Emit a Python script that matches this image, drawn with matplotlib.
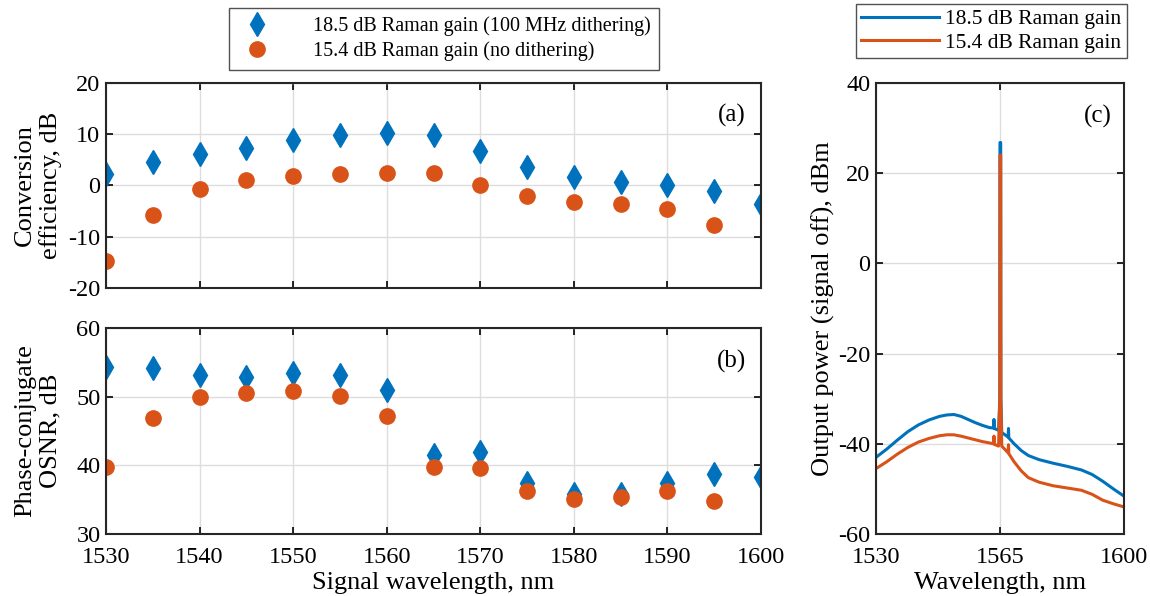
import numpy as np
import matplotlib.pyplot as plt

plt.rcParams['font.family'] = ['Liberation Serif', 'DejaVu Serif']
plt.rcParams['font.size'] = 17.5
plt.rcParams['axes.unicode_minus'] = False

blue = '#0072BD'
orange = '#D95319'

# (a) and (b): signal wavelength sweep
wl_blue = [1530, 1535, 1540, 1545, 1550, 1555, 1560, 1565, 1570, 1575, 1580, 1585, 1590, 1595, 1600]
wl_orange = [1530, 1535, 1540, 1545, 1550, 1555, 1560, 1565, 1570, 1575, 1580, 1585, 1590, 1595]

ce_blue = [2.2, 4.6, 6.2, 7.4, 8.8, 9.9, 10.2, 9.9, 6.8, 3.7, 1.6, 0.6, 0.1, -1.0, -3.6]
ce_orange = [-14.7, -5.8, -0.7, 1.0, 1.9, 2.3, 2.5, 2.4, 0.1, -2.0, -3.3, -3.7, -4.5, -7.7]

osnr_blue = [54.3, 54.2, 53.2, 52.9, 53.4, 53.2, 51.0, 41.5, 41.9, 37.5, 35.8, 35.9, 37.5, 38.7, 38.3]
osnr_orange = [39.7, 46.9, 50.0, 50.6, 50.9, 50.1, 47.2, 39.7, 39.6, 36.3, 35.1, 35.4, 36.2, 34.8]

# (c): output spectrum with signal off
spec_wl_blue = [1530, 1533, 1536, 1539, 1542, 1545, 1548, 1550, 1552, 1554, 1556, 1558, 1560, 1562,
                1563.2, 1563.3, 1563.4, 1564.6, 1564.95, 1565.0, 1565.2, 1565.25, 1565.5,
                1567.3, 1567.4, 1567.5, 1569, 1571, 1573, 1576, 1580, 1584, 1588, 1591, 1594, 1597, 1600]
spec_blue = [-43.0, -41.2, -39.2, -37.3, -35.8, -34.7, -33.9, -33.6, -33.5, -33.9, -34.6, -35.3, -35.9, -36.4,
             -36.5, -34.6, -36.6, -37.0, -30.0, 26.8, 26.8, -30.0, -37.5,
             -38.5, -36.6, -38.7, -40.0, -41.5, -42.6, -43.5, -44.3, -45.0, -45.8, -46.8, -48.3, -50.0, -51.6]

spec_wl_orange = [1530, 1533, 1536, 1539, 1542, 1545, 1548, 1550, 1552, 1554, 1556, 1558, 1560, 1562,
                  1563.2, 1563.3, 1563.4, 1564.6, 1564.95, 1565.0, 1565.2, 1565.25, 1565.5,
                  1567.3, 1567.4, 1567.5, 1569, 1571, 1573, 1576, 1580, 1584, 1588, 1591, 1594, 1597, 1600]
spec_orange = [-45.5, -44.0, -42.3, -40.8, -39.6, -38.8, -38.2, -38.0, -38.0, -38.3, -38.7, -39.1, -39.5, -39.8,
               -40.0, -38.3, -40.1, -40.5, -30.0, 24.0, 24.0, -30.0, -40.5,
               -42.0, -40.2, -42.2, -44.0, -46.0, -47.5, -48.5, -49.3, -49.8, -50.3, -51.2, -52.5, -53.3, -54.0]

fig = plt.figure(figsize=(11.5, 5.96), dpi=100)
ax_a = fig.add_axes([0.0922, 0.5168, 0.5696, 0.344])
ax_b = fig.add_axes([0.0922, 0.104, 0.5696, 0.3456])
ax_c = fig.add_axes([0.7617, 0.104, 0.2157, 0.7567])


def style(ax):
    ax.grid(True, color='#dddddd', linewidth=1)
    ax.set_axisbelow(True)
    ax.tick_params(direction='in', top=True, right=True, length=5, width=1.2)
    ax.tick_params(axis='y', pad=4)
    ax.tick_params(axis='x', pad=9)
    for s in ax.spines.values():
        s.set_linewidth(1.5)
        s.set_color('#262626')


ax_a.plot(wl_blue, ce_blue, 'd', color=blue, markersize=12, label='18.5 dB Raman gain (100 MHz dithering)')
ax_a.plot(wl_orange, ce_orange, 'o', color=orange, markersize=11, label='15.4 dB Raman gain (no dithering)')
ax_a.set_xlim(1530, 1600)
ax_a.set_ylim(-20, 20)
ax_a.set_xticks(np.arange(1530, 1601, 10))
ax_a.set_xticklabels([])
ax_a.set_yticks([-20, -10, 0, 10, 20])
ax_a.set_ylabel('Conversion\nefficiency, dB', fontsize=19, va='center')
ax_a.yaxis.set_label_coords(-0.104, 0.5)
ax_a.text(0.955, 0.84, '(a)', transform=ax_a.transAxes, ha='center', va='center', fontsize=18)
style(ax_a)

ax_b.plot(wl_blue, osnr_blue, 'd', color=blue, markersize=12)
ax_b.plot(wl_orange, osnr_orange, 'o', color=orange, markersize=11)
ax_b.set_xlim(1530, 1600)
ax_b.set_ylim(30, 60)
ax_b.set_xticks(np.arange(1530, 1601, 10))
ax_b.set_yticks([30, 40, 50, 60])
ax_b.set_xlabel('Signal wavelength, nm', fontsize=19, labelpad=3)
ax_b.set_ylabel('Phase-conjugate\nOSNR, dB', fontsize=19, va='center')
ax_b.yaxis.set_label_coords(-0.104, 0.5)
ax_b.text(0.955, 0.84, '(b)', transform=ax_b.transAxes, ha='center', va='center', fontsize=18)
style(ax_b)

fig.legend(handles=ax_a.get_lines(), loc='center', bbox_to_anchor=(0.386, 0.935),
           fontsize=14.5, frameon=True, fancybox=False, edgecolor='#262626',
           borderpad=0.4, handletextpad=1.8, labelspacing=0.3)

ax_c.plot(spec_wl_blue, spec_blue, color=blue, linewidth=2.2, label='18.5 dB Raman gain')
ax_c.plot(spec_wl_orange, spec_orange, color=orange, linewidth=2.2, label='15.4 dB Raman gain')
ax_c.set_xlim(1530, 1600)
ax_c.set_ylim(-60, 40)
ax_c.set_xticks([1530, 1565, 1600])
ax_c.set_yticks([-60, -40, -20, 0, 20, 40])
ax_c.set_xlabel('Wavelength, nm', fontsize=19, labelpad=3)
ax_c.set_ylabel('Output power (signal off), dBm', fontsize=19, labelpad=2)
ax_c.text(0.895, 0.925, '(c)', transform=ax_c.transAxes, ha='center', va='center', fontsize=18)
style(ax_c)

fig.legend(handles=ax_c.get_lines(), loc='center', bbox_to_anchor=(0.862, 0.948),
           fontsize=15.5, frameon=True, fancybox=False, edgecolor='#262626',
           borderpad=0.25, handlelength=3.6, handletextpad=0.3, labelspacing=0.15)

fig.savefig('out.png', dpi=100)
